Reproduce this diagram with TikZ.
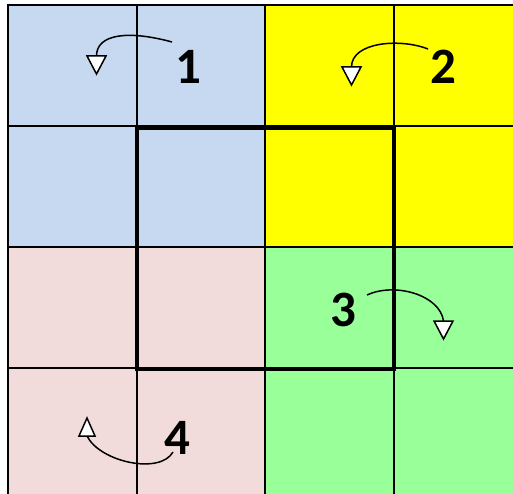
\documentclass[tikz,border=0pt]{standalone}
\usepackage{fontspec}
\setmainfont{Carlito}
\definecolor{cblue}{RGB}{198,217,240}
\definecolor{cyellow}{RGB}{255,255,0}
\definecolor{cgreen}{RGB}{153,255,153}
\definecolor{cpink}{RGB}{242,220,219}
\tikzset{
  gridline/.style={line width=1.7pt},
  borderline/.style={line width=2.6pt},
  thickbox/.style={line width=4.6pt},
  rotcurve/.style={line width=1.5pt},
  tiphead/.style={line width=1.5pt,fill=white,line join=miter},
  numlabel/.style={font=\fontsize{51}{60}\selectfont\bfseries,inner sep=0pt}
}
\begin{document}
\begin{tikzpicture}[x=1pt,y=-1pt]
\useasboundingbox (0,0) rectangle (513,494);
% fills
\fill[cblue] (8,5) rectangle (265,247);
\fill[cyellow] (265,5) rectangle (513,247);
\fill[cpink] (8,247) rectangle (265,494);
\fill[cgreen] (265,247) rectangle (513,494);
% grid
\foreach \x in {137,265,394} \draw[gridline] (\x,5) -- (\x,494);
\foreach \y in {126,247,368} \draw[gridline] (8,\y) -- (513,\y);
\draw[borderline] (8,494) -- (8,5) -- (513,5);
% thick box
\draw[thickbox] (137,128) rectangle (394,369);
% labels
\node[numlabel] (n1) at (188,67) {1};
\node[numlabel] (n2) at (443,67) {2};
\node[numlabel] (n3) at (343,310) {3};
\node[numlabel] (n4) at (177,438) {4};
% arrow curves (start -> base of head)
\coordinate (s1) at (172,42); \coordinate (b1) at (96.5,56);
\coordinate (s2) at (428,49); \coordinate (b2) at (351.5,67);
\coordinate (s3) at (367,295); \coordinate (b3) at (443.5,321);
\coordinate (s4) at (173,452); \coordinate (b4) at (87,436);
\draw[rotcurve] (s1) .. controls (128,30) and (96.5,34) .. (b1);
\draw[rotcurve] (s2) .. controls (400,38) and (351.5,42) .. (b2);
\draw[rotcurve] (s3) .. controls (395,282) and (440,295) .. (b3);
\draw[rotcurve] (s4) .. controls (160,475) and (100,462) .. (b4);
% open triangular heads
\draw[tiphead] (87,56) -- (106,56) -- (96.5,74) -- cycle;
\draw[tiphead] (342,67) -- (361,67) -- (351.5,85) -- cycle;
\draw[tiphead] (434,321) -- (453,321) -- (443.5,339) -- cycle;
\draw[tiphead] (79,436) -- (95,436) -- (87,418) -- cycle;
\end{tikzpicture}
\end{document}
